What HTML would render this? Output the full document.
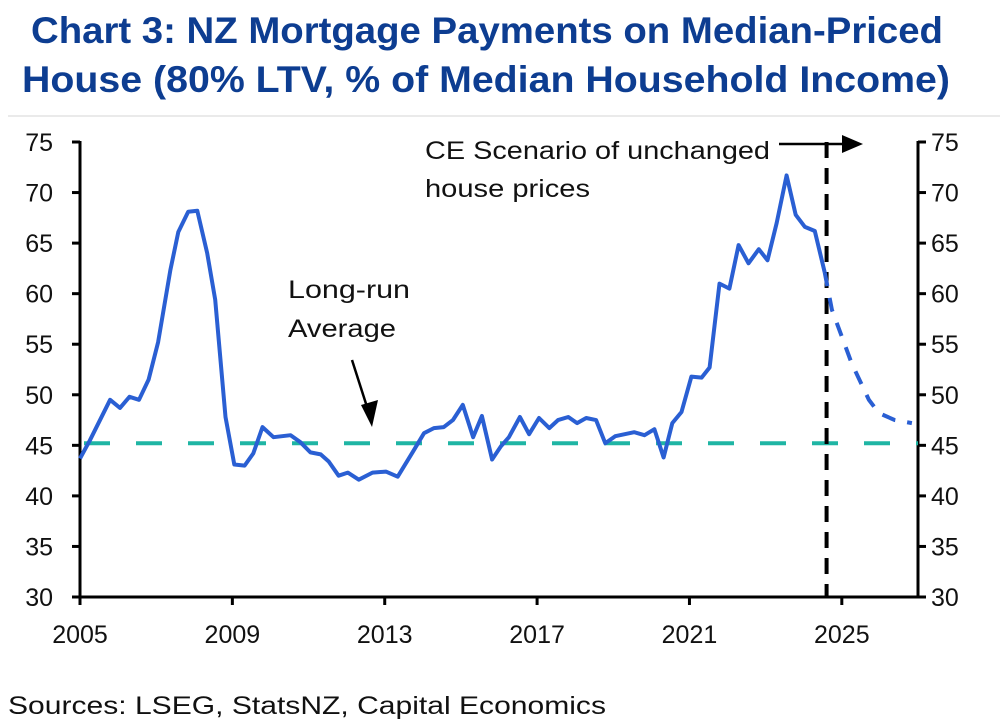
<!DOCTYPE html>
<html><head><meta charset="utf-8">
<style>
html,body{margin:0;padding:0;background:#fff;width:1000px;height:726px;overflow:hidden}
svg{display:block}
text{font-family:"Liberation Sans","DejaVu Sans",sans-serif}
</style></head>
<body>
<svg id="chart" width="1000" height="726" viewBox="0 0 1000 726">
<text x="487" y="43" text-anchor="middle" font-size="37" font-weight="bold" fill="#0d3d91" textLength="912" lengthAdjust="spacingAndGlyphs">Chart 3: NZ Mortgage Payments on Median-Priced</text>
<text x="486" y="92" text-anchor="middle" font-size="37" font-weight="bold" fill="#0d3d91" textLength="928" lengthAdjust="spacingAndGlyphs">House (80% LTV, % of Median Household Income)</text>
<line x1="8" y1="116" x2="1000" y2="116" stroke="#e3e3e3" stroke-width="1.5"/>
<g id="plot"></g>
<text x="8" y="714" font-size="25" fill="#111" textLength="598" lengthAdjust="spacingAndGlyphs">Sources: LSEG, StatsNZ, Capital Economics</text>
</svg>
<script>
const years = [2005.0,2005.26,2005.79,2006.05,2006.3,2006.55,2006.8,2007.05,2007.37,2007.58,2007.84,2008.08,2008.34,2008.55,2008.82,2009.05,2009.32,2009.55,2009.79,2010.08,2010.53,2010.79,2011.05,2011.32,2011.53,2011.79,2012.03,2012.32,2012.68,2013.03,2013.34,2013.76,2014.03,2014.29,2014.55,2014.79,2015.05,2015.32,2015.55,2015.82,2016.05,2016.26,2016.55,2016.79,2017.05,2017.32,2017.55,2017.82,2018.05,2018.29,2018.55,2018.79,2019.05,2019.55,2019.82,2020.08,2020.32,2020.55,2020.79,2021.05,2021.32,2021.53,2021.79,2022.05,2022.29,2022.55,2022.82,2023.05,2023.29,2023.55,2023.79,2024.03,2024.29,2024.55];
const payments = [43.7,45.5,49.5,48.7,49.8,49.5,51.5,55.2,62.3,66.1,68.1,68.2,64.0,59.4,47.8,43.1,43.0,44.2,46.8,45.8,46.0,45.3,44.3,44.1,43.4,42.0,42.3,41.6,42.3,42.4,41.9,44.5,46.2,46.7,46.8,47.5,49.0,45.8,47.9,43.6,44.9,45.8,47.8,46.1,47.7,46.7,47.5,47.8,47.2,47.7,47.5,45.2,45.9,46.3,46.0,46.6,43.8,47.2,48.3,51.8,51.7,52.7,61.0,60.5,64.8,63.0,64.4,63.3,67.0,71.7,67.8,66.6,66.2,62.1];
const fcYears = [2024.55,2024.74,2025.26,2025.71,2025.97,2026.39,2026.84];
const fcPayments = [62.1,58.4,53.1,49.5,48.2,47.5,47.2];
const longRunAverage = 45.2;
const scenarioStart = 2024.6;
const yTicks = [30,35,40,45,50,55,60,65,70,75];
const xTicks = [2005,2009,2013,2017,2021,2025];

const X0=80,X1=918,Y0=597,Y1=142;
const xs = v => X0 + (v-2005)/(2027-2005)*(X1-X0);
const ys = v => Y0 - (v-30)/(75-30)*(Y0-Y1);
const NS="http://www.w3.org/2000/svg";
const g=document.getElementById('plot');
function mk(tag,attrs,parent){const e=document.createElementNS(NS,tag);for(const k in attrs)e.setAttribute(k,attrs[k]);(parent||g).appendChild(e);return e;}

let e=mk('line',{x1:X0,y1:Y1-1,x2:X0,y2:Y0+1,stroke:'#000','stroke-width':3});


e=mk('line',{x1:X1,y1:Y1-1,x2:X1,y2:Y0+1,stroke:'#000','stroke-width':3});


e=mk('line',{x1:X0,y1:Y0,x2:X1,y2:Y0,stroke:'#000','stroke-width':3});



yTicks.forEach(v=>{
  const y=ys(v);
  let t=mk('line',{x1:X0-8,y1:y,x2:X0,y2:y,stroke:'#000','stroke-width':3});
  
  
  t=mk('line',{x1:X1,y1:y,x2:X1+8,y2:y,stroke:'#000','stroke-width':3});
  
  
  let l=mk('text',{x:53,y:y+9,'text-anchor':'end','font-size':25,fill:'#111'});
  l.textContent=v;
  
  
  l=mk('text',{x:931,y:y+9,'text-anchor':'start','font-size':25,fill:'#111'});
  l.textContent=v;
  
  
});
xTicks.forEach(v=>{
  const x=xs(v);
  let t=mk('line',{x1:x,y1:Y0,x2:x,y2:Y0+8,stroke:'#000','stroke-width':3});
  
  
  let l=mk('text',{x:x,y:Y0+46,'text-anchor':'middle','font-size':25,fill:'#111'});
  l.textContent=v;
  
  
});

e=mk('line',{x1:X0,y1:ys(longRunAverage),x2:X1,y2:ys(longRunAverage),stroke:'#1fb5a4','stroke-width':4,'stroke-dasharray':'26 26','stroke-dashoffset':'-4'});



const sx=xs(scenarioStart);
e=mk('line',{x1:sx,y1:Y1,x2:sx,y2:Y0,stroke:'#000','stroke-width':4,'stroke-dasharray':'16 10'});



const pts=years.map((y,i)=>xs(y).toFixed(1)+','+ys(payments[i]).toFixed(1)).join(' ');
e=mk('polyline',{points:pts,fill:'none',stroke:'#2a5fd3','stroke-width':4,'stroke-linejoin':'round'});


const fpts=fcYears.map((y,i)=>xs(y).toFixed(1)+','+ys(fcPayments[i]).toFixed(1)).join(' ');
e=mk('polyline',{points:fpts,fill:'none',stroke:'#2a5fd3','stroke-width':4,'stroke-dasharray':'14 12'});



e=mk('text',{x:288,y:298,'font-size':25,fill:'#111',textLength:122,lengthAdjust:'spacingAndGlyphs'});e.textContent='Long-run';


e=mk('text',{x:288,y:337,'font-size':25,fill:'#111',textLength:108,lengthAdjust:'spacingAndGlyphs'});e.textContent='Average';


e=mk('line',{x1:352,y1:360,x2:368,y2:410,stroke:'#000','stroke-width':2.5});


e=mk('polygon',{points:'361,405 378,400 372,427',fill:'#000'});



e=mk('text',{x:425,y:159,'font-size':25,fill:'#111',textLength:345,lengthAdjust:'spacingAndGlyphs'});e.textContent='CE Scenario of unchanged';


e=mk('text',{x:425,y:197,'font-size':25,fill:'#111',textLength:165,lengthAdjust:'spacingAndGlyphs'});e.textContent='house prices';


e=mk('line',{x1:779,y1:144,x2:845,y2:144,stroke:'#000','stroke-width':2.5});


e=mk('polygon',{points:'842,135 863,144 842,153',fill:'#000'});


</script>
</body></html>
